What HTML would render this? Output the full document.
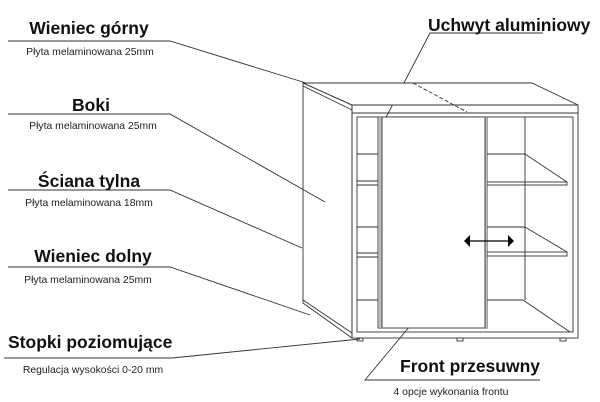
<!DOCTYPE html>
<html><head><meta charset="utf-8"><style>
html,body{margin:0;padding:0;background:#fff;}
svg{display:block;}
.t{font-family:"Liberation Sans",sans-serif;font-weight:bold;font-size:17.5px;fill:#111;}
.s{font-family:"Liberation Sans",sans-serif;font-size:10.4px;fill:#222;}
</style></head><body>
<svg width="600" height="402" viewBox="0 0 600 402" xmlns="http://www.w3.org/2000/svg">
<g stroke="#333" stroke-width="0.9" fill="none">
<polyline points="8,41 170,41 345,95"/>
<polyline points="8,114 170,114 325,202"/>
<polyline points="8,190 170,190 302,248"/>
<polyline points="8,267 170,267 310,315"/>
<polyline points="4,358 172,358 360,339"/>
<polyline points="540,380 365,380 415,320"/>
<polyline points="543,33 430,33 382,125"/>
<polygon points="303,83 532,83 578,105 352,105" fill="#fff"/>
<line x1="303" y1="86" x2="352" y2="110"/>
<rect x="352" y="105" width="226" height="8"/>
<line x1="413" y1="83" x2="467" y2="112" stroke-dasharray="4,2"/>
<polygon points="303,83 352,105 352,338 303,303"/>
<line x1="303" y1="300" x2="352" y2="333"/>
<rect x="352" y="113" width="226" height="225"/>
<rect x="357" y="117" width="216" height="215"/>
<line x1="357" y1="154" x2="378" y2="154"/>
<line x1="357" y1="181" x2="378" y2="181"/>
<line x1="357" y1="185" x2="378" y2="185"/>
<line x1="357" y1="227" x2="378" y2="227"/>
<line x1="357" y1="253" x2="378" y2="253"/>
<line x1="357" y1="257" x2="378" y2="257"/>
<line x1="357" y1="300" x2="378" y2="300"/>
<line x1="525" y1="117" x2="525" y2="300"/>
<line x1="487" y1="154" x2="525" y2="154"/>
<line x1="525" y1="154" x2="567" y2="182"/>
<rect x="487" y="182" width="80" height="3"/>
<line x1="487" y1="227" x2="525" y2="227"/>
<line x1="525" y1="227" x2="567" y2="252"/>
<rect x="487" y="252" width="80" height="4"/>
<line x1="487" y1="300" x2="523" y2="300"/>
<line x1="523" y1="300" x2="570" y2="332"/>
<rect x="378" y="117" width="109" height="211" fill="#fff"/>
<rect x="379" y="117" width="3" height="211" fill="#bbb" stroke="none"/>
<rect x="485" y="117" width="2" height="211" fill="#bbb" stroke="none"/>
<line x1="382" y1="117" x2="382" y2="328"/>
<line x1="485" y1="117" x2="485" y2="328"/>
<rect x="357" y="338" width="6" height="3"/>
<rect x="457" y="338" width="6" height="3"/>
<rect x="560" y="338" width="6" height="3"/>
<line x1="468" y1="241" x2="510" y2="241" stroke="#000" stroke-width="1.2"/>
</g>
<polygon points="464,241 470,235 470,247" fill="#000"/>
<polygon points="514,241 508,235 508,247" fill="#000"/>
<text class="t" x="89" y="34" text-anchor="middle">Wieniec górny</text>
<text class="s" x="90" y="55" text-anchor="middle">Płyta melaminowana 25mm</text>
<text class="t" x="91" y="111" text-anchor="middle">Boki</text>
<text class="s" x="93" y="129" text-anchor="middle">Płyta melaminowana 25mm</text>
<text class="t" x="89" y="187" text-anchor="middle">Ściana tylna</text>
<text class="s" x="89" y="206" text-anchor="middle">Płyta melaminowana 18mm</text>
<text class="t" x="93" y="262" text-anchor="middle">Wieniec dolny</text>
<text class="s" x="88" y="283" text-anchor="middle">Płyta melaminowana 25mm</text>
<text class="t" x="8" y="348">Stopki poziomujące</text>
<text class="s" x="93" y="373" text-anchor="middle">Regulacja wysokości 0-20 mm</text>
<text class="t" x="428" y="31">Uchwyt aluminiowy</text>
<text class="t" x="400" y="372">Front przesuwny</text>
<text class="s" x="451" y="395" text-anchor="middle">4 opcje wykonania frontu</text>
</svg>
</body></html>
